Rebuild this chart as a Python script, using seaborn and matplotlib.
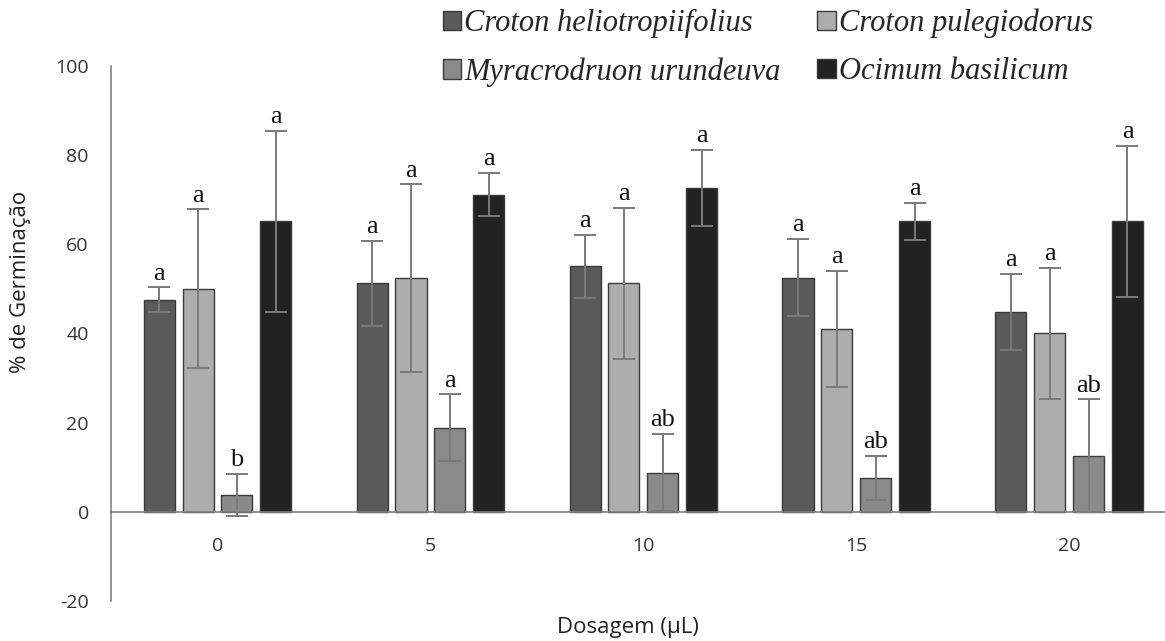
import numpy as np
import pandas as pd
import matplotlib
matplotlib.use("Agg")
import matplotlib.pyplot as plt
import seaborn as sns

# dados
dosagem = ["0", "5", "10", "15", "20"]
especies = ["Croton heliotropiifolius", "Croton pulegiodorus",
            "Myracrodruon urundeuva", "Ocimum basilicum"]
ch_media = [47.5, 51.2, 55.0, 52.5, 44.8]
cp_media = [50.0, 52.4, 51.2, 41.0, 40.0]
mu_media = [3.8, 18.8, 8.8, 7.6, 12.6]
ob_media = [65.1, 71.1, 72.6, 65.1, 65.1]
ch_erro = [2.8, 9.6, 7.1, 8.7, 8.5]
cp_erro = [17.8, 21.0, 17.0, 13.0, 14.7]
mu_erro = [4.7, 7.5, 8.6, 5.0, 12.6]
ob_erro = [20.3, 4.8, 8.6, 4.2, 17.0]
ch_letra = ["a", "a", "a", "a", "a"]
cp_letra = ["a", "a", "a", "a", "a"]
mu_letra = ["b", "a", "ab", "ab", "ab"]
ob_letra = ["a", "a", "a", "a", "a"]
cores = ["#5a5a5a", "#adadad", "#8a8a8a", "#222222"]

medias = [ch_media, cp_media, mu_media, ob_media]
erros = [ch_erro, cp_erro, mu_erro, ob_erro]
letras = [ch_letra, cp_letra, mu_letra, ob_letra]

df = pd.DataFrame({
    "dose": dosagem * 4,
    "especie": np.repeat(especies, len(dosagem)),
    "germ": np.concatenate(medias),
})

sns.set_style("white")
plt.rcParams["font.family"] = ["Open Sans", "DejaVu Sans"]
plt.rcParams["axes.unicode_minus"] = False

fig = plt.figure(figsize=(11.65, 6.41), dpi=100)
ax = fig.add_axes([0.0953, 0.0624, 0.9047, 0.835])

sns.barplot(data=df, x="dose", y="germ", hue="especie", order=dosagem,
            hue_order=especies, palette=cores, width=0.73, gap=0.2,
            errorbar=None, edgecolor="#3a3a3a", linewidth=1.0, ax=ax,
            saturation=1)

# barras de erro e letras
for cont, err, let in zip(ax.containers, erros, letras):
    for bar, e, l in zip(cont, err, let):
        xc = bar.get_x() + bar.get_width() / 2
        h = bar.get_height()
        ax.errorbar(xc, h, yerr=e, fmt="none", ecolor="#7a7a7a",
                    elinewidth=1.4, capsize=8, capthick=1.4)
        ax.annotate(l, (xc, h + e), xytext=(0, 2), textcoords="offset points",
                    ha="center", va="bottom", fontsize=19,
                    family=["Liberation Serif"], color="#111111")

ax.set_ylim(-20, 100)
ax.set_xlim(-0.5, 4.45)
ax.set_yticks(range(-20, 101, 20))

for s in ["top", "right"]:
    ax.spines[s].set_visible(False)
ax.spines["bottom"].set_position(("data", 0))
ax.spines["bottom"].set_color("#808080")
ax.spines["bottom"].set_linewidth(1.2)
ax.spines["left"].set_color("#808080")
ax.spines["left"].set_linewidth(1.2)
ax.tick_params(axis="x", length=0, pad=18, labelsize=14, labelcolor="#333333")
ax.tick_params(axis="y", length=0, pad=16, labelsize=14, labelcolor="#333333")

ax.set_xlabel("Dosagem (µL)", fontsize=16, color="#222222")
ax.set_ylabel("% de Germinação", fontsize=16, color="#222222")
ax.xaxis.set_label_coords(0.49, -0.03)
ax.yaxis.set_label_coords(-0.076, 0.596)

h, lab = ax.get_legend_handles_labels()
ordem = [0, 2, 1, 3]
ax.legend([h[i] for i in ordem], [lab[i] for i in ordem], ncol=2,
          loc="upper left", bbox_to_anchor=(443 / 1165, 1 - 9 / 641),
          bbox_transform=fig.transFigure, frameon=False, borderpad=0,
          borderaxespad=0, handlelength=0.6, handleheight=0.6,
          handletextpad=0.1, columnspacing=1.2, labelspacing=0.62,
          prop={"family": "Liberation Serif", "style": "italic", "size": 22})

fig.savefig("out.png", dpi=100)
